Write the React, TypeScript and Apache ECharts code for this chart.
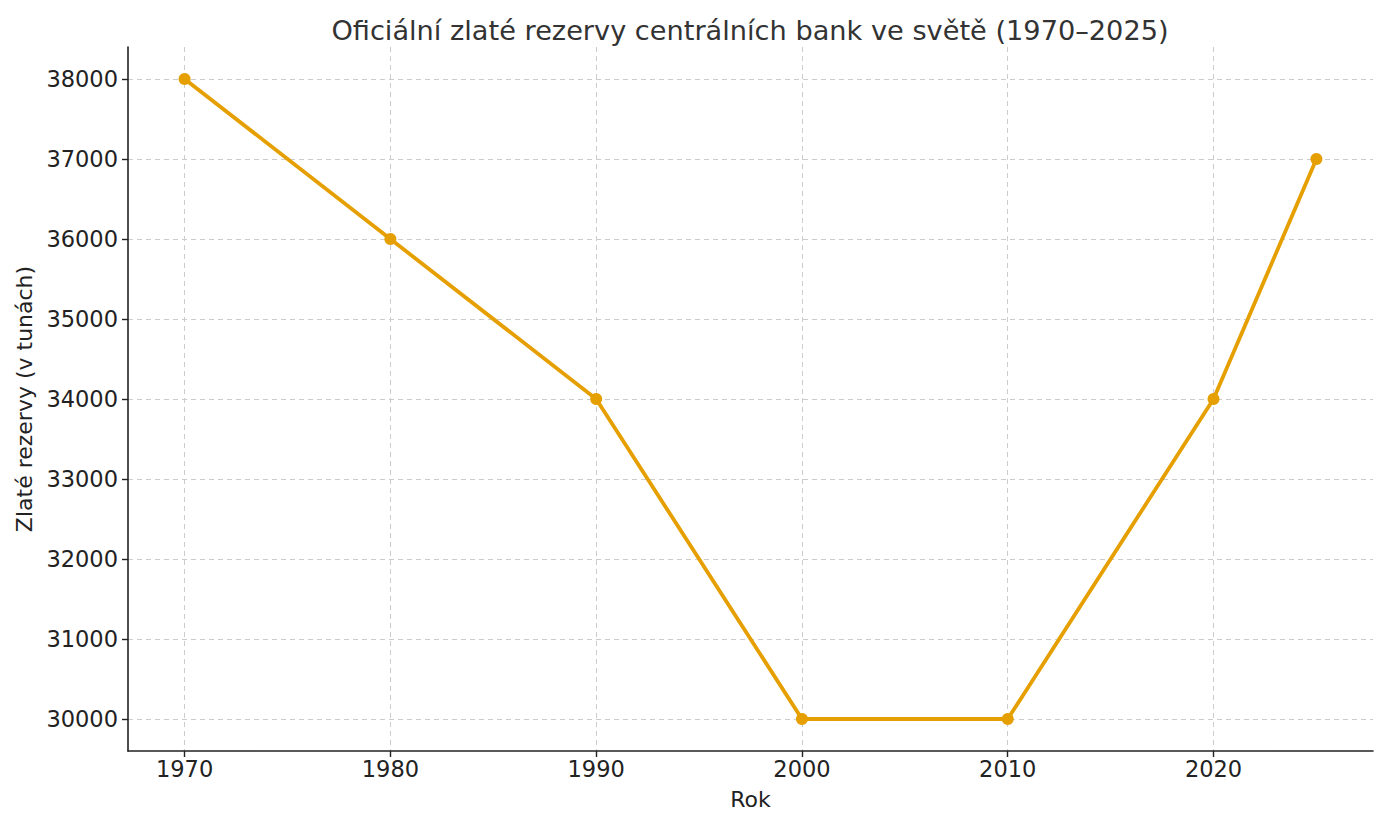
import React, { useEffect, useRef } from "react";
import * as echarts from "echarts";

const years = [1970, 1980, 1990, 2000, 2010, 2020, 2025];
const reserves = [38000, 36000, 34000, 30000, 30000, 34000, 37000];
const xTicks = [1970, 1980, 1990, 2000, 2010, 2020];
const yTicks = [30000, 31000, 32000, 33000, 34000, 35000, 36000, 37000, 38000];

const FONT = "DejaVu Sans";

export default function App() {
  const ref = useRef<HTMLDivElement>(null);
  useEffect(() => {
    if (!ref.current) return;
    document.body.style.margin = "0";
    const chart = echarts.init(ref.current, null, { renderer: "svg" });
    const gridLine = { show: true, lineStyle: { color: "#cccccc", type: [5, 4], width: 1 } };
    chart.setOption({
      animation: false,
      backgroundColor: "#ffffff",
      title: {
        text: "Oficiální zlaté rezervy centrálních bank ve světě (1970–2025)",
        left: 745,
        textAlign: "center",
        top: 12,
        textStyle: { fontFamily: FONT, fontSize: 27.2, fontWeight: "normal", color: "#333333" },
      },
      grid: { left: 128, right: 13, top: 47, bottom: 75 },
      xAxis: {
        type: "value",
        min: 1967.25,
        max: 2027.75,
        name: "Rok",
        nameLocation: "middle",
        nameGap: 37,
        nameTextStyle: { fontFamily: FONT, fontSize: 22, color: "#222222" },
        axisLine: { show: true, onZero: false, lineStyle: { color: "#222222", width: 1.6 } },
        axisTick: { show: true, length: 6, customValues: xTicks, lineStyle: { color: "#222222", width: 1.4 } },
        axisLabel: { customValues: xTicks, fontFamily: FONT, fontSize: 22.5, color: "#222222", margin: 6, formatter: (v: number) => String(v) },
        splitLine: gridLine,
      },
      yAxis: {
        type: "value",
        min: 29600,
        max: 38400,
        name: "Zlaté rezervy (v tunách)",
        nameLocation: "middle",
        nameGap: 90,
        nameTextStyle: { fontFamily: FONT, fontSize: 22, color: "#222222" },
        axisLine: { show: true, onZero: false, lineStyle: { color: "#222222", width: 1.6 } },
        axisTick: { show: true, length: 6, customValues: yTicks, lineStyle: { color: "#222222", width: 1.4 } },
        axisLabel: { customValues: yTicks, fontFamily: FONT, fontSize: 22.5, color: "#222222", margin: 10, formatter: (v: number) => String(v) },
        splitLine: gridLine,
      },
      series: [
        {
          type: "line",
          data: years.map((y, i) => [y, reserves[i]]),
          symbol: "circle",
          symbolSize: 12,
          itemStyle: { color: "#E69F00" },
          lineStyle: { color: "#E69F00", width: 3.8 },
        },
      ],
    });
    return () => chart.dispose();
  }, []);
  return <div ref={ref} style={{ width: 1386, height: 826 }} />;
}
